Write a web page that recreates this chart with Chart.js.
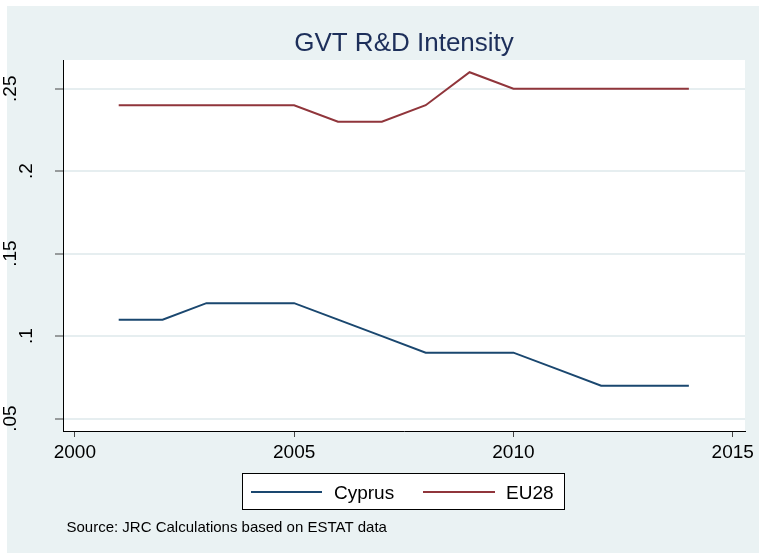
<!DOCTYPE html>
<html>
<head>
<meta charset="utf-8">
<title>GVT R&amp;D Intensity</title>
<script src="https://cdn.jsdelivr.net/npm/chart.js@4.4.1/dist/chart.umd.min.js"></script>
<style>
    body { margin: 0; background: #ffffff; }
    #wrap { width: 759px; height: 553px; }
</style>
</head>
<body>
<div id="wrap"><canvas id="chart" width="759" height="553"></canvas></div>
<script>
// Data
const years = [2001, 2002, 2003, 2004, 2005, 2006, 2007, 2008, 2009, 2010, 2011, 2012, 2013, 2014];
const cyprus = [0.11, 0.11, 0.12, 0.12, 0.12, 0.11, 0.10, 0.09, 0.09, 0.09, 0.08, 0.07, 0.07, 0.07];
const eu28 = [0.24, 0.24, 0.24, 0.24, 0.24, 0.23, 0.23, 0.24, 0.26, 0.25, 0.25, 0.25, 0.25, 0.25];
const seriesNames = ['Cyprus', 'EU28'];
const xTicks = [2000, 2005, 2010, 2015];
const yTicks = [0.05, 0.1, 0.15, 0.2, 0.25];
const yTickLabels = ['.05', '.1', '.15', '.2', '.25'];
const titleText = 'GVT R&D Intensity';
const noteText = 'Source: JRC Calculations based on ESTAT data';

const FONT = '"Liberation Sans", Arial, sans-serif';
const BG = '#eaf2f3';

function toPoints(values) {
    return years.map((yr, i) => ({ x: yr, y: values[i] }));
}

// Background, plot region, title, y labels, legend and note
const stataLook = {
    id: 'stataLook',
    beforeDraw(chart) {
        const ctx = chart.ctx;
        const a = chart.chartArea;
        ctx.save();
        ctx.fillStyle = '#ffffff';
        ctx.fillRect(0, 0, chart.width, chart.height);
        ctx.fillStyle = BG;
        ctx.fillRect(7, 6, chart.width - 7, chart.height - 6);
        ctx.fillStyle = '#ffffff';
        ctx.fillRect(a.left, a.top, a.right - a.left, a.bottom - a.top);
        ctx.restore();
    },
    afterDraw(chart) {
        const ctx = chart.ctx;
        const a = chart.chartArea;
        const yScale = chart.scales.y;
        ctx.save();

        // title
        ctx.fillStyle = '#1d2f5a';
        ctx.font = '26px ' + FONT;
        ctx.textAlign = 'center';
        ctx.textBaseline = 'alphabetic';
        ctx.fillText(titleText, (a.left + a.right) / 2, 51);

        // rotated y tick labels
        ctx.fillStyle = '#000000';
        ctx.font = '19px ' + FONT;
        yTicks.forEach((v, i) => {
            const label = yTickLabels[i];
            const py = yScale.getPixelForValue(v);
            const bx = label.length > 2 ? 16 : 32;
            ctx.save();
            ctx.translate(bx, py);
            ctx.rotate(-Math.PI / 2);
            ctx.textAlign = 'center';
            ctx.textBaseline = 'alphabetic';
            ctx.fillText(label, 0, 0);
            ctx.restore();
        });

        // legend box
        const box = { left: 242.5, top: 473.5, right: 564.5, bottom: 509.5 };
        ctx.fillStyle = '#ffffff';
        ctx.fillRect(box.left, box.top, box.right - box.left, box.bottom - box.top);
        ctx.strokeStyle = '#000000';
        ctx.lineWidth = 1;
        ctx.strokeRect(box.left, box.top, box.right - box.left, box.bottom - box.top);

        const entries = [
            { x1: 251, x2: 322, tx: 334 },
            { x1: 423, x2: 495, tx: 506 }
        ];
        chart.data.datasets.forEach((ds, i) => {
            const e = entries[i];
            ctx.strokeStyle = ds.borderColor;
            ctx.lineWidth = 2;
            ctx.beginPath();
            ctx.moveTo(e.x1, 492);
            ctx.lineTo(e.x2, 492);
            ctx.stroke();
            ctx.fillStyle = '#000000';
            ctx.font = '19px ' + FONT;
            ctx.textAlign = 'left';
            ctx.textBaseline = 'alphabetic';
            ctx.fillText(ds.label, e.tx, 499);
        });

        // source note
        ctx.font = '15px ' + FONT;
        ctx.fillStyle = '#000000';
        ctx.textAlign = 'left';
        ctx.fillText(noteText, 66.5, 532);

        ctx.restore();
    }
};

const ctx = document.getElementById('chart').getContext('2d');
new Chart(ctx, {
    type: 'line',
    data: {
        datasets: [
            {
                label: seriesNames[0],
                data: toPoints(cyprus),
                borderColor: '#1a476f',
                borderWidth: 2,
                pointRadius: 0,
                tension: 0
            },
            {
                label: seriesNames[1],
                data: toPoints(eu28),
                borderColor: '#90353b',
                borderWidth: 2,
                pointRadius: 0,
                tension: 0
            }
        ]
    },
    options: {
        responsive: false,
        animation: false,
        layout: {
            padding: { left: 7, top: 60, right: 14, bottom: 82 }
        },
        plugins: {
            legend: { display: false },
            title: { display: false },
            tooltip: { enabled: false }
        },
        scales: {
            x: {
                type: 'linear',
                min: 1999.73,
                max: 2015.28,
                afterBuildTicks(scale) {
                    scale.ticks = xTicks.map(v => ({ value: v }));
                },
                afterFit(scale) {
                    scale.height = 40;
                },
                border: { display: true, color: '#000000', width: 1 },
                grid: {
                    drawOnChartArea: false,
                    drawTicks: true,
                    tickLength: 6,
                    tickColor: '#444444'
                },
                ticks: {
                    color: '#000000',
                    font: { family: FONT, size: 19 },
                    padding: 4,
                    maxRotation: 0,
                    callback: v => String(v)
                }
            },
            y: {
                type: 'linear',
                min: 0.0425,
                max: 0.2674,
                afterBuildTicks(scale) {
                    scale.ticks = yTicks.map(v => ({ value: v }));
                },
                afterFit(scale) {
                    scale.width = 56;
                },
                border: { display: true, color: '#000000', width: 1 },
                grid: {
                    color: '#e6eef0',
                    lineWidth: 2,
                    drawTicks: true,
                    tickLength: 8,
                    tickColor: '#444444',
                    tickWidth: 1
                },
                ticks: { display: false }
            }
        }
    },
    plugins: [stataLook]
});
</script>
</body>
</html>
